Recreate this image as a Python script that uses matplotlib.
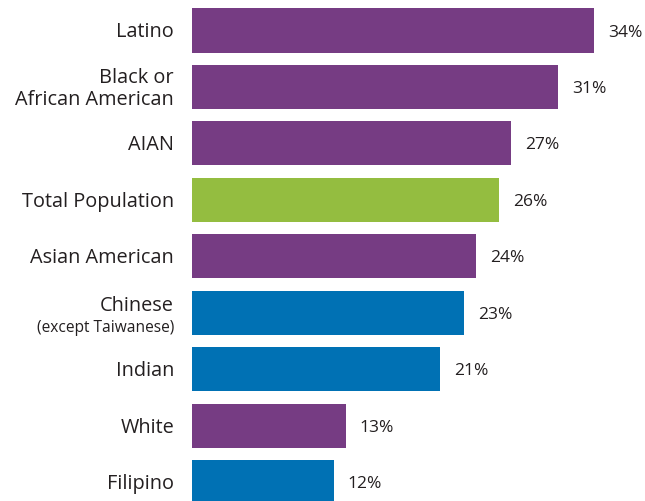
import matplotlib
matplotlib.use("Agg")
import matplotlib.pyplot as plt
from matplotlib.transforms import blended_transform_factory

groups = ["Latino", "Black or\nAfrican American", "AIAN", "Total Population",
          "Asian American", "Chinese", "Indian", "White", "Filipino"]
values = [34, 31, 27, 26, 24, 23, 21, 13, 12]
kinds = ["race", "race", "race", "total", "race", "asian", "asian", "race", "asian"]

colors = {"race": "#763c83", "total": "#94bd40", "asian": "#0071b4"}
text_color = "#231f20"

plt.rcParams['font.family'] = ['Open Sans', 'DejaVu Sans']

fig = plt.figure(figsize=(6.45, 5.01), dpi=100)
ax = fig.add_axes([192 / 645, 0, 453 / 645, 1])

pos = list(range(len(groups)))
ax.barh(pos, values, height=0.78, color=[colors[k] for k in kinds])

ax.set_xlim(0, 453 / 11.82)
ax.set_ylim(8.33, -0.54)
ax.axis('off')

# value labels at the end of each bar
for p, v in zip(pos, values):
    ax.annotate("%d%%" % v, (v, p), xytext=(14, -2), textcoords='offset pixels',
                va='center', ha='left', fontsize=12.5, color=text_color)

# category labels left of the axis
trans = blended_transform_factory(ax.transAxes, ax.transData)
lx = -18 / 453
for p, g in zip(pos, groups):
    if g == "Chinese":
        ax.text(lx, p - 0.13, g, transform=trans, ha='right', va='center',
                fontsize=14.3, color=text_color)
        ax.text(lx, p + 0.27, "(except Taiwanese)", transform=trans,
                ha='right', va='center', fontsize=11.2, color=text_color)
    else:
        ax.text(lx, p + 0.035, g, transform=trans, ha='right', va='center',
                fontsize=14.3, color=text_color, linespacing=1.1)

fig.savefig("out.png", dpi=100)
